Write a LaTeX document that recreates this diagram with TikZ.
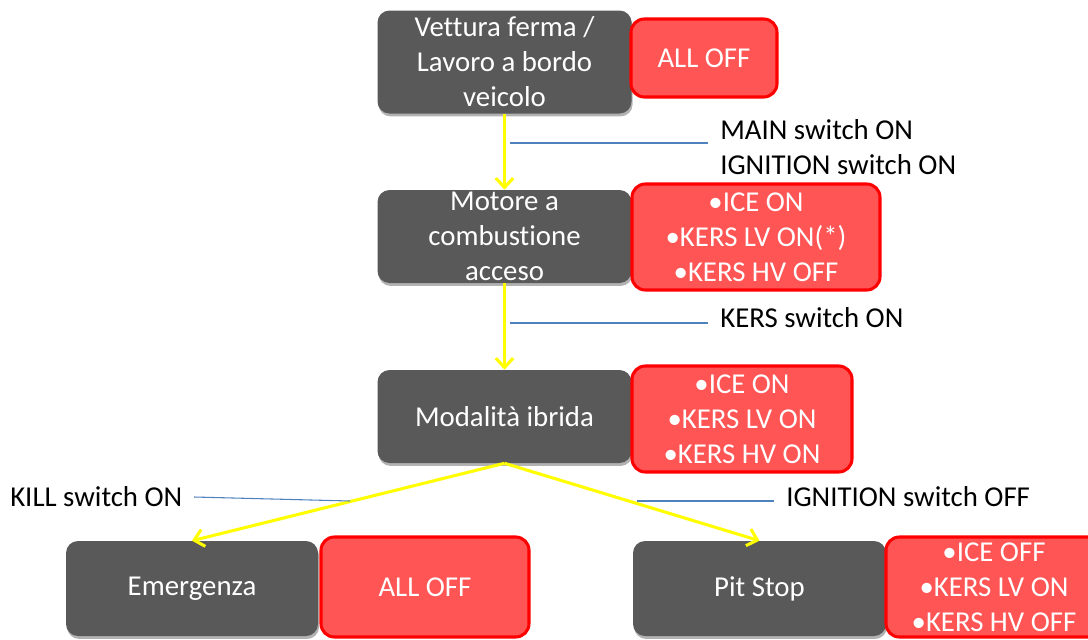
\documentclass[tikz,border=0pt]{standalone}
\usepackage{fontspec}
\setmainfont{Carlito}[Ligatures=NoCommon]
\usetikzlibrary{arrows.meta,shadows}

\definecolor{boxgray}{HTML}{595959}
\definecolor{statered}{HTML}{FF5555}
\definecolor{edgered}{HTML}{FF0000}
\definecolor{flowyellow}{HTML}{FFFF00}
\definecolor{tagblue}{HTML}{4F81BD}

\begin{document}
\begin{tikzpicture}[x=0.75pt,y=-0.75pt,
  font=\fontsize{21.6}{26.25}\selectfont,
  state/.style={fill=boxgray, rounded corners=9pt, text=white, align=center,
    inner sep=0pt, minimum width=190.5pt,
    drop shadow={shadow xshift=0.8pt, shadow yshift=-2.2pt, opacity=0.3, fill=black}},
  info/.style={fill=statered, draw=edgered, line width=2.3pt, rounded corners=10pt,
    text=white, align=center, inner sep=0pt},
  flow/.style={draw=flowyellow, line width=2.3pt,
    -{Straight Barb[length=7pt,width=13pt,line width=2.3pt]}},
  tag/.style={draw=tagblue, line width=0.8pt},
  label/.style={anchor=base west, inner sep=0pt, text=black}]
\useasboundingbox (0,0) rectangle (1088,639);
\clip (0,0) rectangle (1088,639);

% states and their conditions
\node[state, minimum height=77.25pt] (s1) at (504.5,62) {Vettura ferma /\\Lavoro a bordo\\veicolo};
\node[info, minimum width=109.5pt, minimum height=58.5pt] (r1) at (704,58) {ALL OFF};

\node[state, minimum height=69.75pt] (s2) at (504.5,236.5) {Motore a\\combustione\\acceso};
\node[info, minimum width=186pt, minimum height=79.5pt] (r2) at (756,237) {•ICE ON\\•KERS LV ON(*)\\•KERS HV OFF};

\node[state, minimum height=69.75pt] (s3) at (504.5,416.5) {Modalità ibrida};
\node[info, minimum width=165pt, minimum height=79.5pt] (r3) at (742,419) {•ICE ON\\•KERS LV ON\\•KERS HV ON};

\node[state, minimum width=189pt, minimum height=71.25pt] (s4) at (192,588.5) {Emergenza};
\node[info, minimum width=156pt, minimum height=75pt] (r4) at (425,587) {ALL OFF};

\node[state, minimum width=189.75pt, minimum height=71.25pt] (s5) at (759.5,588.5) {Pit Stop};
\node[info, minimum width=162pt, minimum height=75pt] (r5) at (994,587) {•ICE OFF\\•KERS LV ON\\•KERS HV OFF};

% transitions
\draw[flow] (s1.south) -- (s2.north);
\draw[flow] (s2.south) -- (s3.north);
\draw[flow] (s3.south) -- (s4.north);
\draw[flow] (s3.south) -- (s5.north);

% transition labels
\node[label] (l1) at (720,139) {MAIN switch ON};
\node[label] (l2) at (720,174) {IGNITION switch ON};
\node[label] (l3) at (720,327) {KERS switch ON};
\node[label] (l4) at (10,506) {KILL switch ON};
\node[label] (l5) at (786,506) {IGNITION switch OFF};

% leader lines from the transitions to their labels
\coordinate (t1) at (510,143);
\coordinate (t2) at (510,323);
\coordinate (t4a) at (194,497);
\coordinate (t4) at (350,501);
\coordinate (t5) at (637,501);
\draw[tag] (t1) -- ++(198,0);
\draw[tag] (t2) -- ++(198,0);
\draw[tag] (t4a) -- (t4);
\draw[tag] (t5) -- ++(137,0);
\end{tikzpicture}
\end{document}
